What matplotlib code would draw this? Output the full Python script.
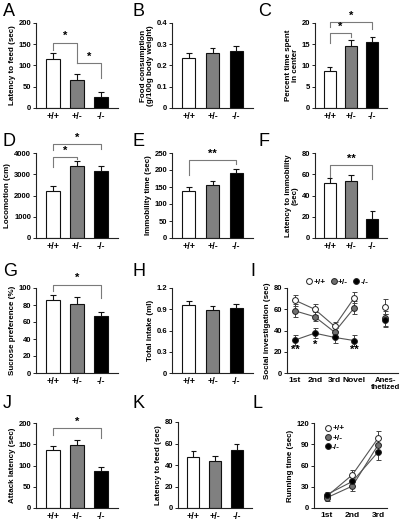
import numpy as np
import matplotlib
matplotlib.use('Agg')
import matplotlib.pyplot as plt

plt.rcParams['font.family'] = ['Liberation Sans', 'DejaVu Sans']

genotypes = ['+/+', '+/-', '-/-']
bar_colors = ['white', '#808080', 'black']

# bar panels: means and upper SEM
A_mean = [115, 65, 25]
A_err = [15, 15, 12]
B_mean = [0.235, 0.260, 0.266]
B_err = [0.023, 0.021, 0.026]
C_mean = [8.6, 14.6, 15.6]
C_err = [1.0, 1.5, 1.1]
D_mean = [2210, 3370, 3160]
D_err = [230, 250, 230]
E_mean = [138, 155, 190]
E_err = [11, 13, 12]
F_mean = [51.4, 53.2, 17.8]
F_err = [5.3, 6.0, 7.7]
G_mean = [85.5, 81.2, 66.5]
G_err = [5.9, 8.0, 5.2]
H_mean = [0.955, 0.885, 0.915]
H_err = [0.065, 0.065, 0.06]
J_mean = [137, 149, 88]
J_err = [9.5, 11.5, 9.5]
K_mean = [47, 43.3, 54.3]
K_err = [5.7, 4.8, 4.8]

# social investigation (I)
I_trials = ['1st', '2nd', '3rd', 'Novel', 'Anes-\nthetized']
I_wt = [68.5, 60.0, 44.0, 71.0, 62.5]
I_wt_err = [5, 5, 4, 5, 7]
I_het = [58.5, 53.0, 38.5, 61.5, 51.5]
I_het_err = [6, 4, 4, 6, 7]
I_ko = [31.0, 37.5, 33.5, 30.5, 49.5]
I_ko_err = [5, 5, 5, 5, 6]

# running time (L)
L_trials = ['1st', '2nd', '3rd']
L_wt = [16.5, 47.0, 98.5]
L_wt_err = [4, 6, 10]
L_het = [14.5, 31.0, 89.0]
L_het_err = [4, 7, 10]
L_ko = [19.0, 37.5, 79.0]
L_ko_err = [4, 6, 11]

# significance brackets: (x1, x2, y, left end, right end, label)
sig_A = [(0, 1, 154, 137, 106, '*'), (1, 2, 106, 106, 70, '*')]
sig_C = [(0, 2, 20.2, 19.0, 18.7, '*'), (0, 1, 17.7, 15.3, 16.7, '*')]
sig_D = [(0, 2, 4430, 4130, 4200, '*'), (0, 1, 3810, 3350, 3730, '*')]
sig_E = [(0, 2, 228, 185, 219, '**')]
sig_F = [(0, 2, 68.5, 57.6, 56, '**')]
sig_G = [(0, 2, 104, 96, 88, '*')]
sig_J = [(0, 2, 188, 172, 165, '*')]

W, H = 400, 523
fig = plt.figure(figsize=(4, 5.23), dpi=100)


def make_ax(x0, x1, ytop, ybot):
    return fig.add_axes([x0 / W, 1 - ybot / H, (x1 - x0) / W, (ybot - ytop) / H])


def style(ax, ylim, yticks, yticklabels, ylabel):
    for s in ['top', 'right']:
        ax.spines[s].set_visible(False)
    for s in ['left', 'bottom']:
        ax.spines[s].set_linewidth(0.8)
        ax.spines[s].set_color('#222222')
    ax.set_ylim(*ylim)
    ax.set_yticks(yticks)
    ax.set_yticklabels(yticklabels if yticklabels else [str(t) for t in yticks])
    ax.tick_params(axis='y', length=2.5, width=0.7, pad=1, labelsize=5.5, color='#222222')
    ax.tick_params(axis='x', length=0, pad=3, labelsize=6.5)
    for lab in ax.get_yticklabels() + ax.get_xticklabels():
        lab.set_fontweight('bold')
    ax.set_ylabel(ylabel, fontsize=5.8, fontweight='bold', labelpad=2, linespacing=1.0)


def bar_panel(ax, means, errs, ylim, yticks, ylabel, ticklabels=None, sigs=()):
    x = np.arange(len(means))
    ax.bar(x, means, width=0.55, color=bar_colors, edgecolor='#111111', linewidth=0.8, zorder=2)
    top = np.array(means) + np.array(errs)
    ax.vlines(x, means, top, color='#111111', lw=0.8, zorder=1)
    ax.hlines(top, x - 0.12, x + 0.12, color='#111111', lw=0.8, zorder=1)
    ax.set_xlim(-0.7, 2.7)
    ax.set_xticks(x)
    ax.set_xticklabels(genotypes)
    style(ax, ylim, yticks, ticklabels, ylabel)
    for x1, x2, y, yl, yr, txt in sigs:
        ax.plot([x1, x1, x2, x2], [yl, y, y, yr], color='#7a7a7a', lw=0.8, clip_on=False)
        ax.text((x1 + x2) / 2, y + (ylim[1] - ylim[0]) * 0.015, txt, ha='center', va='bottom',
                fontsize=8, fontweight='bold', clip_on=False)


def letter(x, y, s):
    fig.text(x / W, 1 - y / H, s, fontsize=13, va='top', ha='left')


# row 1
axA = make_ax(36, 118, 23, 108)
bar_panel(axA, A_mean, A_err, (0, 200), [0, 50, 100, 150, 200], 'Latency to feed (sec)', sigs=sig_A)
axB = make_ax(172, 253, 23, 108)
bar_panel(axB, B_mean, B_err, (0, 0.4), [0, 0.1, 0.2, 0.3, 0.4], 'Food consumption\n(g/100g body weight)',
          ticklabels=['0', '0.1', '0.2', '0.3', '0.4'])
axC = make_ax(315, 387, 23, 108)
bar_panel(axC, C_mean, C_err, (0, 20), [0, 5, 10, 15, 20], 'Percent time spent\nin center', sigs=sig_C)

# row 2
axD = make_ax(36, 118, 153, 238)
bar_panel(axD, D_mean, D_err, (0, 4000), [0, 1000, 2000, 3000, 4000], 'Locomotion (cm)', sigs=sig_D)
axE = make_ax(172, 253, 153, 238)
bar_panel(axE, E_mean, E_err, (0, 250), [0, 50, 100, 150, 200, 250], 'Immobility time (sec)', sigs=sig_E)
axF = make_ax(315, 387, 153, 238)
bar_panel(axF, F_mean, F_err, (0, 80), [0, 20, 40, 60, 80], 'Latency to immobility\n(sec)', sigs=sig_F)

# row 3
axG = make_ax(36, 118, 288, 373)
bar_panel(axG, G_mean, G_err, (0, 100), [0, 20, 40, 60, 80, 100], 'Sucrose preference (%)', sigs=sig_G)
axH = make_ax(172, 253, 288, 373)
bar_panel(axH, H_mean, H_err, (0, 1.2), [0, 0.3, 0.6, 0.9, 1.2], 'Total intake (ml)',
          ticklabels=['0', '0.3', '0.6', '0.9', '1.2'])

axI = make_ax(287, 398, 288, 373)
xI = np.array([0, 1, 2, 3, 4.55])
mk = dict(marker='o', ms=4.2, mec='#222222', mew=0.7, capsize=1.8, elinewidth=0.7, capthick=0.7, ecolor='#444444')
series_I = [(I_wt, I_wt_err, 'white', '+/+'), (I_het, I_het_err, '#707070', '+/-'), (I_ko, I_ko_err, 'black', '-/-')]
for vals, errs, c, lab in series_I:
    axI.errorbar(xI[:4], vals[:4], yerr=errs[:4], color='#555555', lw=0.8, mfc=c, **mk)
    axI.errorbar(xI[4:], vals[4:], yerr=errs[4:], color='#555555', lw=0, mfc=c, **mk)
axI.set_xlim(-0.4, 5.2)
axI.set_xticks(xI)
axI.set_xticklabels(I_trials, linespacing=0.95)
style(axI, (0, 80), [0, 20, 40, 60, 80], None, 'Social investigation (sec)')
axI.tick_params(axis='x', labelsize=6)
axI.get_xticklabels()[-1].set_fontsize(5.6)
for xs, ys, txt in [(0, 17, '**'), (1, 22, '*'), (3, 17, '**')]:
    axI.text(xs, ys, txt, ha='center', va='bottom', fontsize=8, fontweight='bold')
axI.legend(handles=[plt.Line2D([], [], ls='none', marker='o', ms=4.2, mfc=c, mec='#222222', mew=0.7)
                    for _, _, c, _ in series_I],
           labels=genotypes, loc='lower center', bbox_to_anchor=(0.45, 0.98), ncol=3, frameon=False,
           handlelength=0.8, handletextpad=0.1, columnspacing=0.6, borderaxespad=0,
           prop={'size': 6, 'weight': 'bold'})

# row 4
axJ = make_ax(36, 118, 423, 508)
bar_panel(axJ, J_mean, J_err, (0, 200), [0, 50, 100, 150, 200], 'Attack latency (sec)', sigs=sig_J)
axK = make_ax(178, 252, 422, 508)
bar_panel(axK, K_mean, K_err, (0, 80), [0, 20, 40, 60, 80], 'Latency to feed (sec)')

axL = make_ax(314, 387, 423, 508)
xL = np.arange(3)
series_L = [(L_wt, L_wt_err, 'white', '+/+'), (L_het, L_het_err, '#707070', '+/-'), (L_ko, L_ko_err, 'black', '-/-')]
for vals, errs, c, lab in series_L:
    axL.errorbar(xL, vals, yerr=errs, color='#555555', lw=0.8, mfc=c, **mk)
axL.set_xlim(-0.5, 2.35)
axL.set_xticks(xL)
axL.set_xticklabels(L_trials)
style(axL, (0, 120), [0, 30, 60, 90, 120], None, 'Running time (sec)')
axL.tick_params(axis='x', labelsize=6)
axL.legend(handles=[plt.Line2D([], [], ls='none', marker='o', ms=4.2, mfc=c, mec='#222222', mew=0.7)
                    for _, _, c, _ in series_L],
           labels=genotypes, loc='upper left', bbox_to_anchor=(0.1, 1.02), frameon=False,
           handlelength=0.8, handletextpad=0.1, labelspacing=0.15, borderaxespad=0,
           prop={'size': 6, 'weight': 'bold'})

for s, x, y in [('A', 3, 3), ('B', 133, 3), ('C', 258, 3),
                ('D', 3, 133), ('E', 133, 133), ('F', 258, 133),
                ('G', 3, 263), ('H', 133, 263), ('I', 250, 263),
                ('J', 3, 395), ('K', 133, 395), ('L', 252, 395)]:
    letter(x, y, s)

fig.savefig('out.png', dpi=100)
